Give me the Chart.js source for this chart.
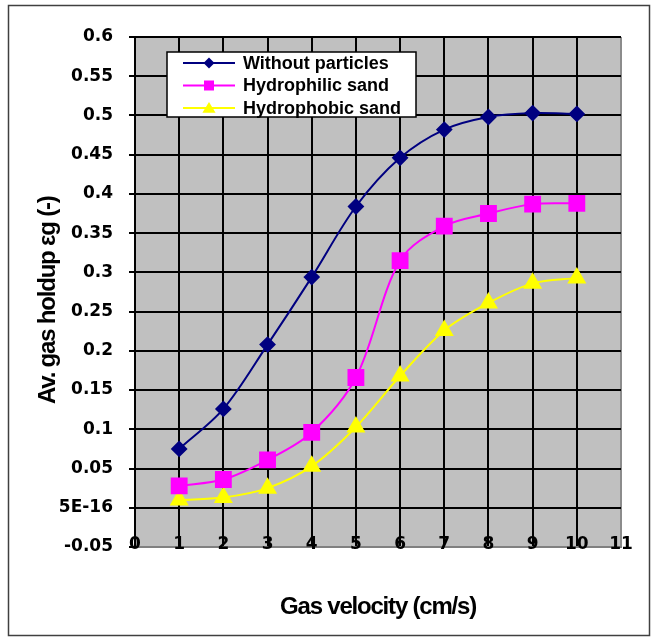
<!DOCTYPE html>
<html>
<head>
<meta charset="utf-8">
<script src="https://cdn.jsdelivr.net/npm/chart.js@4.4.1/dist/chart.umd.min.js"></script>
<style>
  html, body { margin: 0; padding: 0; background: #fff; }
</style>
</head>
<body>
<canvas id="chart" width="657" height="641"></canvas>
<script>
// values
const velocity = [1, 2, 3, 4, 5, 6, 7, 8, 9, 10];
const withoutParticles = [0.075, 0.126, 0.208, 0.294, 0.384, 0.446, 0.482, 0.498, 0.503, 0.502];
const hydrophilicSand = [0.028, 0.036, 0.061, 0.096, 0.166, 0.315, 0.359, 0.375, 0.387, 0.388];
const hydrophobicSand = [0.010, 0.013, 0.025, 0.053, 0.103, 0.168, 0.226, 0.261, 0.286, 0.293];
const seriesNames = ["Without particles", "Hydrophilic sand", "Hydrophobic sand"];

const xTickValues = [0, 1, 2, 3, 4, 5, 6, 7, 8, 9, 10, 11];
const xTickLabels = ["0", "1", "2", "3", "4", "5", "6", "7", "8", "9", "10", "11"];
const yTickValues = [-0.05, 0, 0.05, 0.1, 0.15, 0.2, 0.25, 0.3, 0.35, 0.4, 0.45, 0.5, 0.55, 0.6];
const yTickLabels = ["-0.05", "5E-16", "0.05", "0.1", "0.15", "0.2", "0.25", "0.3", "0.35", "0.4", "0.45", "0.5", "0.55", "0.6"];

const ARIAL = "'Liberation Sans', Arial, sans-serif";
const TICKFONT = "'DejaVu Sans', sans-serif";

function pts(ys) {
  return velocity.map((v, i) => ({ x: v, y: ys[i] }));
}

const plotBg = {
  id: "plotBg",
  beforeDraw(chart) {
    const { ctx, chartArea: a } = chart;
    ctx.save();
    ctx.fillStyle = "#c0c0c0";
    ctx.fillRect(a.left, a.top, a.right - a.left, a.bottom - a.top);
    ctx.restore();
    // axis titles are drawn tight, like the original
    ctx.letterSpacing = "-1.2px";
  },
  beforeDatasetsDraw(chart) {
    chart.ctx.letterSpacing = "0px";
  },
  afterDraw(chart) {
    const ctx = chart.ctx;
    ctx.save();
    ctx.strokeStyle = "#404040";
    ctx.lineWidth = 1.5;
    ctx.strokeRect(8.5, 5.5, 641, 630);
    ctx.restore();
  }
};

function marker(ctx, style, x, y, r, color) {
  ctx.fillStyle = color;
  ctx.beginPath();
  if (style === "rectRot") {
    ctx.moveTo(x, y - r); ctx.lineTo(x + r, y); ctx.lineTo(x, y + r); ctx.lineTo(x - r, y);
  } else if (style === "rect") {
    ctx.rect(x - r, y - r, 2 * r, 2 * r);
  } else {
    ctx.moveTo(x, y - r); ctx.lineTo(x + r * 1.1, y + r * 0.8); ctx.lineTo(x - r * 1.1, y + r * 0.8);
  }
  ctx.closePath();
  ctx.fill();
}

const boxLegend = {
  id: "boxLegend",
  afterDraw(chart) {
    const ctx = chart.ctx;
    ctx.save();
    ctx.letterSpacing = "0px";
    ctx.fillStyle = "#fff";
    ctx.fillRect(167, 52, 249, 65);
    ctx.strokeStyle = "#000";
    ctx.lineWidth = 1.5;
    ctx.strokeRect(167, 52, 249, 65);
    const sizes = [5.5, 5, 6];
    chart.data.datasets.forEach((ds, i) => {
      const y = 63 + i * 22.5;
      ctx.strokeStyle = ds.borderColor;
      ctx.lineWidth = 2;
      ctx.beginPath();
      ctx.moveTo(183, y);
      ctx.lineTo(235, y);
      ctx.stroke();
      marker(ctx, ds.pointStyle, 209, y, sizes[i], ds.borderColor);
      ctx.fillStyle = "#000";
      ctx.font = "bold 18px " + ARIAL;
      ctx.textAlign = "left";
      ctx.textBaseline = "middle";
      ctx.fillText(ds.label, 243, y + 1);
    });
    ctx.restore();
  }
};

new Chart(document.getElementById("chart"), {
  type: "line",
  data: {
    datasets: [
      {
        label: seriesNames[0],
        data: pts(withoutParticles),
        borderColor: "#000080",
        backgroundColor: "#000080",
        pointStyle: "rectRot",
        pointRadius: 7,
        borderWidth: 2
      },
      {
        label: seriesNames[1],
        data: pts(hydrophilicSand),
        borderColor: "#ff00ff",
        backgroundColor: "#ff00ff",
        pointStyle: "rect",
        pointRadius: 10.5,
        borderWidth: 2
      },
      {
        label: seriesNames[2],
        data: pts(hydrophobicSand),
        borderColor: "#ffff00",
        backgroundColor: "#ffff00",
        pointStyle: "triangle",
        pointRadius: 9,
        borderWidth: 2
      }
    ]
  },
  options: {
    responsive: false,
    animation: false,
    devicePixelRatio: 1,
    elements: { line: { tension: 0.33 }, point: { borderWidth: 0, hoverRadius: 0 } },
    layout: { padding: { top: 37, right: 36, left: 0, bottom: 0 } },
    plugins: { legend: { display: false }, tooltip: { enabled: false } },
    scales: {
      x: {
        type: "linear",
        min: 0,
        max: 11,
        afterBuildTicks: s => { s.ticks = xTickValues.map(v => ({ value: v })); },
        afterFit: s => { s.height = 94; },
        ticks: {
          z: 1,
          mirror: true,
          color: "#000",
          font: { family: TICKFONT, size: 17, weight: "bold" },
          padding: -7.5,
          maxRotation: 0,
          callback: (v, i) => xTickLabels[i]
        },
        grid: {
          color: c => (c.tick && c.tick.value === 11 ? "#8c8c8c" : "#000"),
          lineWidth: 2,
          drawTicks: false
        },
        border: { color: "#808080", width: 2 },
        title: {
          display: true,
          text: "Gas velocity (cm/s)",
          color: "#000",
          font: { family: ARIAL, size: 24, weight: "bold" },
          padding: { top: 0, bottom: 19 }
        }
      },
      y: {
        min: -0.05,
        max: 0.6,
        afterBuildTicks: s => { s.ticks = yTickValues.map(v => ({ value: v })); },
        afterFit: s => { s.width = 135; },
        ticks: {
          z: 1,
          color: "#000",
          font: { family: TICKFONT, size: 17, weight: "bold" },
          padding: 16,
          callback: (v, i) => yTickLabels[i]
        },
        grid: {
          color: c => (c.tick && c.tick.value < -0.04 ? "#808080" : "#000"),
          tickColor: "#000",
          lineWidth: 2,
          tickLength: 6
        },
        border: { color: "#000", width: 2 },
        title: {
          display: true,
          text: "Av. gas holdup εg (-)   ",
          color: "#000",
          font: { family: ARIAL, size: 24, weight: "bold" },
          padding: { top: 34, bottom: 0 }
        }
      }
    }
  },
  plugins: [plotBg, boxLegend]
});
</script>
</body>
</html>
